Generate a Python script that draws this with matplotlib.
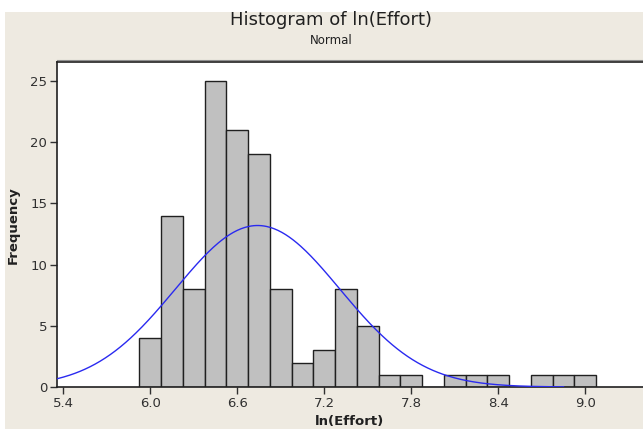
import numpy as np
import matplotlib
matplotlib.use("Agg")
import matplotlib.pyplot as plt
from matplotlib.patches import Rectangle

# Data
bin_centers = [6.00, 6.15, 6.30, 6.45, 6.60, 6.75, 6.90, 7.05, 7.20, 7.35,
               7.50, 7.65, 7.80, 7.95, 8.10, 8.25, 8.40, 8.55, 8.70, 8.85, 9.00]
counts = [4, 14, 8, 25, 21, 19, 8, 2, 3, 8,
          5, 1, 1, 0, 1, 1, 1, 0, 1, 1, 1]
bin_width = 0.15
fit_mean = 6.74
fit_std = 0.567
n_obs = sum(counts)
x_ticks = [5.4, 6.0, 6.6, 7.2, 7.8, 8.4, 9.0]
x_tick_labels = ["5.4", "6.0", "6.6", "7.2", "7.8", "8.4", "9.0"]
y_ticks = [0, 5, 10, 15, 20, 25]

W, H = 643, 429
fig = plt.figure(figsize=(W / 100, H / 100), dpi=100)
beige = "#EEEAE1"
fig.patch.set_facecolor(beige)
# white strips at top and left edges of the screenshot
fig.patches.append(Rectangle((0, 1 - 12 / H), 1, 12 / H, transform=fig.transFigure,
                             facecolor="white", edgecolor="none", zorder=0))
fig.patches.append(Rectangle((0, 0), 5 / W, 1, transform=fig.transFigure,
                             facecolor="white", edgecolor="none", zorder=0))

left_px, right_px, top_px, bottom_px = 57, 660, 62, 387
ax = fig.add_axes([left_px / W, 1 - bottom_px / H,
                   (right_px - left_px) / W, (bottom_px - top_px) / H])
ax.set_facecolor("white")

ax.bar(bin_centers, counts, width=bin_width, color="#C0C0C0",
       edgecolor="#202020", linewidth=1.0, zorder=2)

xs = np.linspace(5.357, 8.85, 400)
pdf = n_obs * bin_width / (fit_std * np.sqrt(2 * np.pi)) * np.exp(-0.5 * ((xs - fit_mean) / fit_std) ** 2)
ax.plot(xs, pdf, color="#2a2aF0", linewidth=1.0, zorder=3)

x_left = 5.4 - 6.3 / 145
x_right = x_left + (right_px - left_px) / 145
ax.set_xlim(x_left, x_right)
ax.set_ylim(0, 26.55)

ax.set_xticks(x_ticks)
ax.set_xticklabels(x_tick_labels)
ax.set_yticks(y_ticks)
ax.tick_params(axis="both", direction="out", length=5, width=1, colors="#303030",
               labelsize=9.5, labelcolor="#303030", pad=2)
for s in ["left", "bottom", "top"]:
    ax.spines[s].set_color("#202020")
    ax.spines[s].set_linewidth(1.2)
ax.spines["right"].set_visible(False)
# faint second line above the top frame, as in the reference
ax.axhline(26.55 + 0.2, color="#909090", linewidth=0.8, clip_on=False, zorder=1)

fig.text(331 / W, 1 - 20 / H, "Histogram of ln(Effort)", ha="center", va="center",
         fontsize=13, color="#202020")
fig.text(331 / W, 1 - 41 / H, "Normal", ha="center", va="center",
         fontsize=8.5, color="#202020")
fig.text(350 / W, 1 - 422 / H, "ln(Effort)", ha="center", va="center",
         fontsize=9.5, fontweight="bold", color="#202020")
fig.text(13 / W, 1 - 225 / H, "Frequency", ha="center", va="center", rotation=90,
         fontsize=9.5, fontweight="bold", color="#202020")

fig.savefig("out.png", dpi=100, facecolor=fig.get_facecolor())
